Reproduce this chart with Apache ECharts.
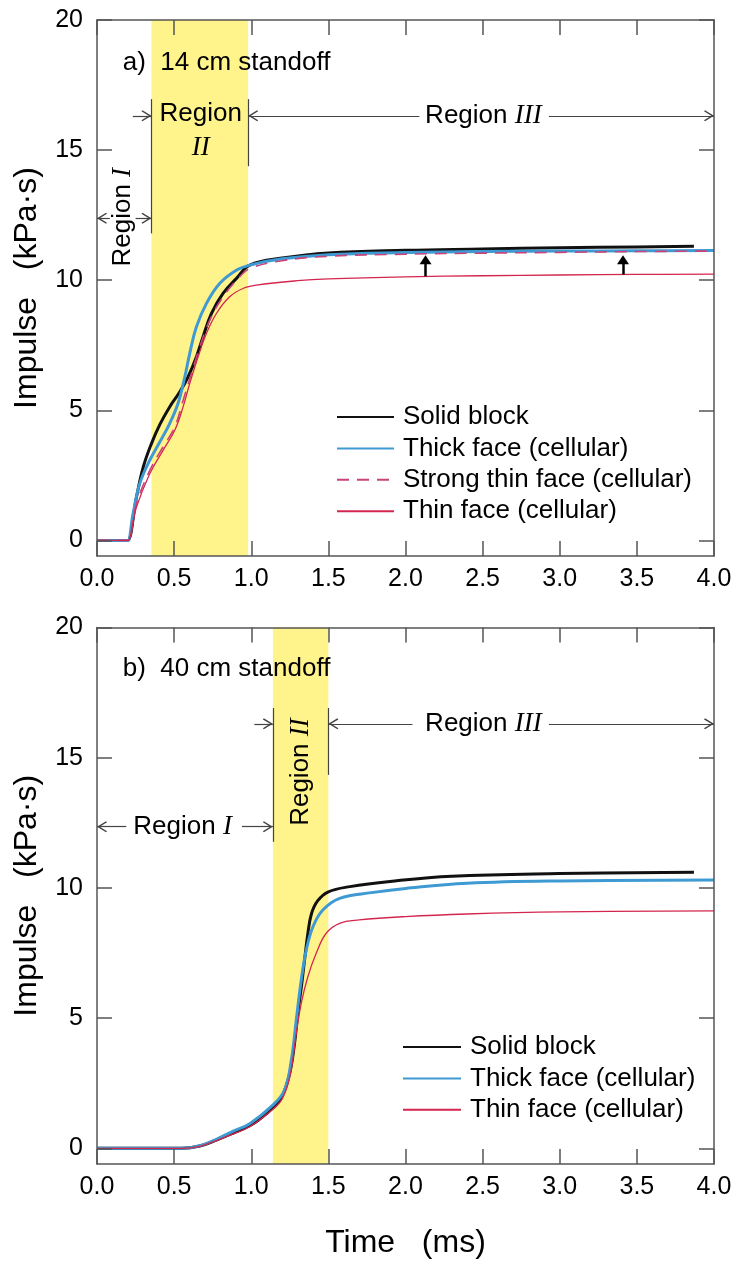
<!DOCTYPE html>
<html>
<head>
<meta charset="utf-8">
<script src="https://cdn.jsdelivr.net/npm/echarts@6/dist/echarts.min.js"></script>
<style>
  html, body { margin: 0; padding: 0; background: #fff; }
  #chart { width: 738px; height: 1266px; }
</style>
</head>
<body>
<div id="chart"></div>
<script>
// panel a) 14 cm standoff -- [time (ms), impulse (kPa·s)]
const solidA = [[0,0],[0.19,0],[0.2,0],[0.256,1.67],[0.30,2.82],[0.353,3.72],[0.407,4.45],[0.471,5.13],[0.536,5.70],[0.59,6.28],[0.644,7.05],[0.687,7.82],[0.742,8.72],[0.817,9.49],[0.903,10.06],[0.99,10.58],[1.2,10.85],[1.5,11.05],[2.0,11.15],[2.5,11.2],[3.0,11.25],[3.5,11.28],[3.87,11.3]];
const thickA = [[0,0],[0.19,0],[0.2,0],[0.234,1.03],[0.277,2.18],[0.342,3.08],[0.407,3.78],[0.471,4.49],[0.525,5.26],[0.569,6.28],[0.601,7.18],[0.644,8.2],[0.709,9.1],[0.795,9.87],[0.903,10.38],[0.99,10.58],[1.2,10.82],[1.5,10.98],[2.0,11.06],[2.5,11.1],[3.0,11.12],[3.5,11.13],[4.0,11.14]];
const strongA = [[0,0],[0.19,0],[0.2,0],[0.256,1.41],[0.342,2.69],[0.428,3.59],[0.504,4.36],[0.558,5.38],[0.612,6.41],[0.666,7.43],[0.731,8.46],[0.817,9.36],[0.925,10.13],[0.99,10.45],[1.2,10.75],[1.5,10.92],[2.0,11.0],[2.5,11.04],[3.0,11.07],[3.5,11.1],[4.0,11.12]];
const thinA = [[0,0],[0.19,0],[0.2,0],[0.256,1.28],[0.342,2.56],[0.428,3.46],[0.504,4.23],[0.558,5.13],[0.601,6.03],[0.655,7.05],[0.709,7.95],[0.774,8.72],[0.86,9.36],[0.946,9.68],[1.033,9.81],[1.3,9.98],[1.5,10.05],[2.0,10.13],[2.5,10.17],[3.0,10.2],[3.5,10.22],[4.0,10.23]];

// panel b) 40 cm standoff
const solidB = [[0,0],[0.55,0],[0.666,0.09],[0.774,0.32],[0.88,0.58],[0.99,0.87],[1.05,1.1],[1.14,1.55],[1.2,2.0],[1.25,2.9],[1.28,4.0],[1.3,5.1],[1.325,6.2],[1.345,7.2],[1.367,8.25],[1.39,9.0],[1.43,9.5],[1.5,9.85],[1.64,10.05],[1.9,10.25],[2.3,10.45],[3.0,10.55],[3.87,10.6]];
const thickB = [[0,0],[0.55,0],[0.666,0.1],[0.774,0.35],[0.88,0.65],[0.99,0.95],[1.14,1.66],[1.216,2.24],[1.26,3.39],[1.292,4.93],[1.324,6.46],[1.357,7.62],[1.4,8.51],[1.464,9.15],[1.573,9.6],[1.78,9.82],[2.0,9.98],[2.4,10.18],[3.0,10.27],[4.0,10.3]];
const thinB = [[0,0],[0.55,0],[0.666,0.08],[0.774,0.3],[0.88,0.55],[0.99,0.83],[1.14,1.5],[1.2,1.9],[1.25,2.75],[1.292,4.42],[1.324,5.57],[1.367,6.59],[1.421,7.49],[1.486,8.26],[1.573,8.64],[1.7,8.77],[2.0,8.9],[2.4,9.0],[3.0,9.08],[4.0,9.12]];

const namesA = ['Solid block', 'Thick face (cellular)', 'Strong thin face (cellular)', 'Thin face (cellular)'];
const namesB = ['Solid block', 'Thick face (cellular)', 'Thin face (cellular)'];
const yTicks = [0, 5, 10, 15, 20];
const regionIIA = [0.353, 0.98];
const regionIIB = [1.14, 1.5];
const arrowTimesA = [2.13, 3.41];

const font = "'Liberation Sans', Arial, sans-serif";
const axisColor = '#555';
const ink = '#000';
// open arrowhead, tip sits at the symbol centre (dummy point widens the box)
const chevron = 'path://M5,-10L5.01,-10L5,-9.99Z M5,0L10,9L9,10L5,2.8L1,10L0,9Z';

const styles = {
  'Solid block': {color: '#111', width: 3},
  'Thick face (cellular)': {color: '#3f9ad3', width: 3},
  'Strong thin face (cellular)': {color: '#c8437a', width: 1.6, type: [12, 8]},
  'Thin face (cellular)': {color: '#d3264f', width: 1.3}
};

function xAxes(grid, withName) {
  const base = {
    gridIndex: grid, type: 'value', min: 0, max: 4, interval: 0.5, z: 4,
    axisLine: {onZero: false, lineStyle: {color: axisColor, width: 1.5}},
    axisTick: {inside: true, length: 15, lineStyle: {color: axisColor, width: 1.5}},
    splitLine: {show: false}
  };
  return [
    Object.assign({}, base, {
      position: 'bottom',
      axisLabel: {fontSize: 25, color: ink, fontFamily: font, margin: 11, formatter: v => v.toFixed(1)},
      name: withName ? 'Time   (ms)' : '',
      nameLocation: 'middle', nameGap: 63,
      nameTextStyle: {fontSize: 32, color: ink, fontFamily: font}
    }),
    Object.assign({}, base, {position: 'top', axisLabel: {show: false}})
  ];
}

function yAxes(grid) {
  const base = {
    gridIndex: grid, type: 'value', min: -0.6, max: 20, z: 4,
    axisLine: {onZero: false, lineStyle: {color: axisColor, width: 1.5}},
    axisTick: {inside: true, length: 15, customValues: yTicks, lineStyle: {color: axisColor, width: 1.5}},
    splitLine: {show: false}
  };
  return [
    Object.assign({}, base, {
      position: 'left',
      axisLabel: {customValues: yTicks, fontSize: 25, color: ink, fontFamily: font, margin: 14},
      name: 'Impulse   (kPa·s)', nameLocation: 'middle', nameGap: 54,
      nameTextStyle: {fontSize: 32, color: ink, fontFamily: font}
    }),
    Object.assign({}, base, {position: 'right', axisLabel: {show: false}})
  ];
}

function lines(names, sets, axisIdx) {
  return names.map((name, i) => ({
    name, type: 'line', data: sets[i],
    xAxisIndex: axisIdx, yAxisIndex: axisIdx,
    symbol: 'none', smooth: 0.4, z: 3,
    lineStyle: styles[name], itemStyle: {color: styles[name].color},
    clip: true
  }));
}

function seg(a, b, head) {
  return [{coord: a, symbol: 'none'}, {coord: b, symbol: head ? chevron : 'none', symbolSize: [11, 20]}];
}

const labelBase = {
  show: true, position: 'inside', color: ink, opacity: 1, fontSize: 26, fontFamily: font,
  textBorderWidth: 0,
  formatter: p => p.data.text,
  rich: {i: {fontFamily: "'Liberation Serif', 'Times New Roman', serif", fontStyle: 'italic', fontSize: 27, color: ink}}
};

function notes(axisIdx, items, band, segs) {
  return {
    type: 'scatter', xAxisIndex: axisIdx, yAxisIndex: axisIdx,
    symbolSize: 0, silent: true, z: 1,
    itemStyle: {color: '#000', opacity: 1},
    label: labelBase,
    data: items,
    markArea: {
      silent: true,
      itemStyle: {color: '#fff38c', opacity: 1},
      data: [[{xAxis: band[0]}, {xAxis: band[1]}]]
    },
    markLine: {
      silent: true, animation: false, symbol: ['none', 'none'],
      label: {show: false},
      lineStyle: {color: '#444', width: 1.2, type: 'solid'},
      data: segs
    }
  };
}

const upArrows = arrowTimesA.map((t, i) => [
  {coord: [t, [10.15, 10.22][i]], symbol: 'none', lineStyle: {color: '#000', width: 2.5, type: 'solid'}},
  {coord: [t, 10.79], symbol: 'triangle', symbolSize: [12, 9]}
]);

const notesA = notes(0, [
  {value: [0.167, 18.34], text: 'a)  14 cm standoff', label: {position: 'right', distance: 0}},
  {value: [0.672, 15.75], text: 'Region\n{i|II}', label: {lineHeight: 34, align: 'center'}},
  {value: [2.505, 16.32], text: 'Region {i|III}'},
  {value: [0.167, 12.42], text: 'Region {i|I}', label: {rotate: 90}}
], regionIIA, [
  seg([regionIIA[0], 11.8], [regionIIA[0], 16.96]),
  seg([regionIIA[1], 14.38], [regionIIA[1], 16.96]),
  seg([0.232, 16.32], [regionIIA[0], 16.32], true),
  seg([2.09, 16.32], [regionIIA[1], 16.32], true),
  seg([2.93, 16.32], [4.0, 16.32], true),
  seg([0.083, 12.38], [0, 12.38], true),
  seg([0.25, 12.38], [regionIIA[0], 12.38], true)
].concat(upArrows));

const notesB = notes(2, [
  {value: [0.167, 18.4], text: 'b)  40 cm standoff', label: {position: 'right', distance: 0}},
  {value: [0.555, 12.35], text: 'Region {i|I}'},
  {value: [1.324, 14.45], text: 'Region {i|II}', label: {rotate: 90}},
  {value: [2.505, 16.29], text: 'Region {i|III}'}
], regionIIB, [
  seg([regionIIB[0], 11.77], [regionIIB[0], 16.91]),
  seg([regionIIB[1], 14.34], [regionIIB[1], 16.91]),
  seg([1.02, 16.3], [regionIIB[0], 16.3], true),
  seg([2.045, 16.3], [regionIIB[1], 16.3], true),
  seg([2.93, 16.3], [4.0, 16.3], true),
  seg([0.19, 12.35], [0, 12.35], true),
  seg([0.94, 12.35], [regionIIB[0], 12.35], true)
]);

const legendBase = {
  orient: 'vertical', padding: 0, itemGap: 5.4, itemHeight: 12,
  selectedMode: false,
  itemStyle: {opacity: 0},
  textStyle: {fontSize: 26, color: ink, fontFamily: font, lineHeight: 26, padding: [0, 0, 0, 4]}
};

const chart = echarts.init(document.getElementById('chart'));
chart.setOption({
  animation: false,
  backgroundColor: '#fff',
  textStyle: {fontFamily: font},
  grid: [
    {left: 97, top: 20, width: 617, height: 536},
    {left: 97, top: 627.5, width: 617, height: 536.5}
  ],
  xAxis: xAxes(0, false).concat(xAxes(1, true)),
  yAxis: yAxes(0).concat(yAxes(1)),
  legend: [
    Object.assign({}, legendBase, {data: namesA, left: 336, top: 404, itemWidth: 57}),
    Object.assign({}, legendBase, {data: namesB, left: 402, top: 1034, itemWidth: 58})
  ],
  series: [notesA]
    .concat(lines(namesA, [solidA, thickA, strongA, thinA], 0))
    .concat([notesB])
    .concat(lines(namesB, [solidB, thickB, thinB], 2))
});
</script>
</body>
</html>
